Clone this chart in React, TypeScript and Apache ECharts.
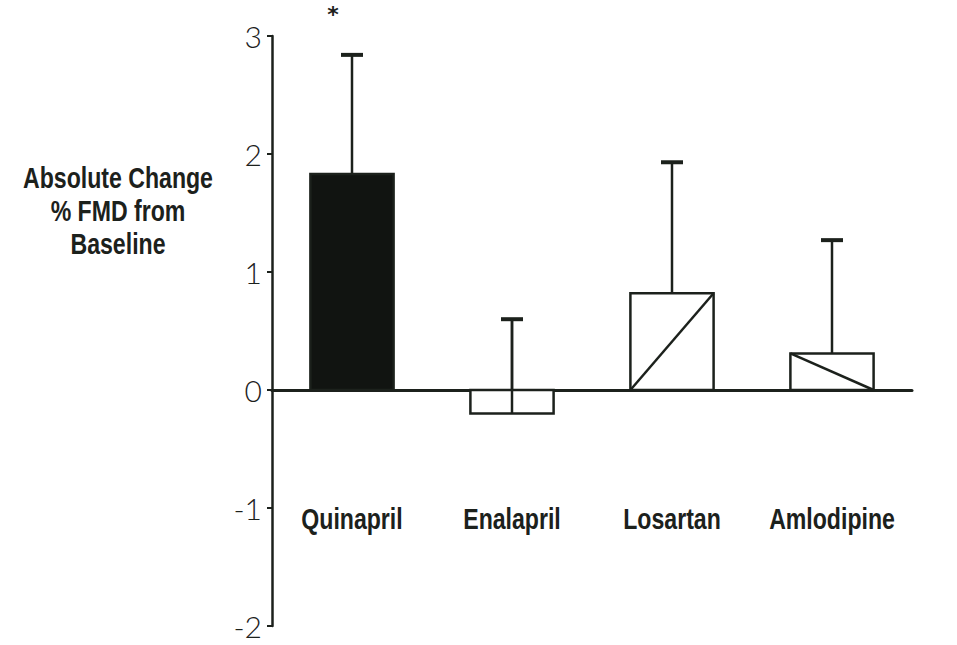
import React, { useEffect, useRef } from "react";
import * as echarts from "echarts";

const categories = ["Quinapril", "Enalapril", "Losartan", "Amlodipine"];
const meanChange = [1.83, -0.2, 0.82, 0.31];
const errorUpper = [2.84, 0.6, 1.93, 1.27];
const significance = ["*", "", "", ""];
const yTicks = { min: -2, max: 3, interval: 1 };
const yTitle = "Absolute Change\n% FMD from\nBaseline";

// styling per bar
const barFill = ["#111411", "#ffffff", "#ffffff", "#ffffff"];
const hatch = ["none", "none", "up", "down"];

const INK = "#1c211c";
const BOLD_FONT = "'Liberation Sans', Arial, sans-serif";
const SQUEEZE = 0.77;

export default function App() {
  const ref = useRef<HTMLDivElement>(null);
  useEffect(() => {
    if (!ref.current) return;
    const chart = echarts.init(ref.current, null, { renderer: "svg" });
    const data = categories.map((c, i) => [i, meanChange[i], errorUpper[i]]);
    chart.setOption({
      animation: false,
      backgroundColor: "#ffffff",
      grid: {
        left: 272,
        right: 45,
        top: 36,
        bottom: 19,
        containLabel: false,
        outerBoundsMode: "none",
      },
      xAxis: {
        type: "category",
        data: categories,
        axisLine: { show: true, onZero: true, lineStyle: { color: INK, width: 3 } },
        axisTick: { show: false },
        axisLabel: { show: false },
        splitLine: { show: false },
      },
      yAxis: {
        type: "value",
        min: yTicks.min,
        max: yTicks.max,
        interval: yTicks.interval,
        axisLine: { show: true, lineStyle: { color: INK, width: 2.5 } },
        axisTick: { show: true, length: 5, lineStyle: { color: INK, width: 2 } },
        axisLabel: {
          margin: 10,
          fontFamily: "Lato, 'DejaVu Sans', sans-serif",
          fontWeight: 300,
          fontSize: 30,
          lineHeight: 22,
          color: INK,
        },
        splitLine: { show: false },
      },
      graphic: [
        {
          type: "text",
          x: 118,
          y: 211,
          scaleX: SQUEEZE,
          style: {
            text: yTitle,
            font: `bold 30px ${BOLD_FONT}`,
            fill: INK,
            align: "center",
            verticalAlign: "middle",
            lineHeight: 33,
          },
        },
      ],
      series: [
        {
          type: "custom",
          clip: false,
          encode: { x: 0, y: 1 },
          data,
          renderItem: (params: any, api: any) => {
            const i = api.value(0);
            const v = api.value(1);
            const up = api.value(2);
            const base = api.coord([i, 0]);
            const top = api.coord([i, v]);
            const eTop = api.coord([i, up]);
            const w = api.size([1, 0])[0] * 0.52;
            const cx = base[0];
            const x0 = cx - w / 2;
            const x1 = cx + w / 2;
            const yA = Math.min(base[1], top[1]);
            const h = Math.abs(base[1] - top[1]);
            const children: any[] = [];
            children.push({
              type: "line",
              shape: { x1: cx, y1: top[1], x2: cx, y2: eTop[1] },
              style: { stroke: INK, lineWidth: 2.5 },
            });
            children.push({
              type: "line",
              shape: { x1: cx - 11, y1: eTop[1], x2: cx + 11, y2: eTop[1] },
              style: { stroke: INK, lineWidth: 4 },
            });
            children.push({
              type: "rect",
              shape: { x: x0, y: yA, width: w, height: h },
              style: { fill: barFill[i], stroke: INK, lineWidth: 2.5 },
            });
            if (hatch[i] === "up") {
              children.push({
                type: "line",
                shape: { x1: x0, y1: base[1], x2: x1, y2: top[1] },
                style: { stroke: INK, lineWidth: 2.5 },
              });
            } else if (hatch[i] === "down") {
              children.push({
                type: "line",
                shape: { x1: x0, y1: top[1], x2: x1, y2: base[1] },
                style: { stroke: INK, lineWidth: 2.5 },
              });
            }
            if (v < 0) {
              children.push({
                type: "line",
                shape: { x1: cx, y1: top[1], x2: cx, y2: eTop[1] },
                style: { stroke: INK, lineWidth: 2.5 },
              });
            }
            if (significance[i]) {
              children.push({
                type: "text",
                x: cx - 19,
                y: eTop[1] - 40,
                style: {
                  text: significance[i],
                  font: "bold 22px 'DejaVu Sans', sans-serif",
                  fill: INK,
                  align: "center",
                  verticalAlign: "middle",
                },
              });
            }
            children.push({
              type: "text",
              x: cx,
              y: base[1] + 129,
              scaleX: SQUEEZE,
              style: {
                text: categories[i],
                font: `bold 30px ${BOLD_FONT}`,
                fill: INK,
                align: "center",
                verticalAlign: "middle",
              },
            });
            return { type: "group", children };
          },
        },
      ],
    });
    return () => chart.dispose();
  }, []);
  return (
    <div
      ref={ref}
      style={{ position: "fixed", left: 0, top: 0, width: 957, height: 645 }}
    />
  );
}
